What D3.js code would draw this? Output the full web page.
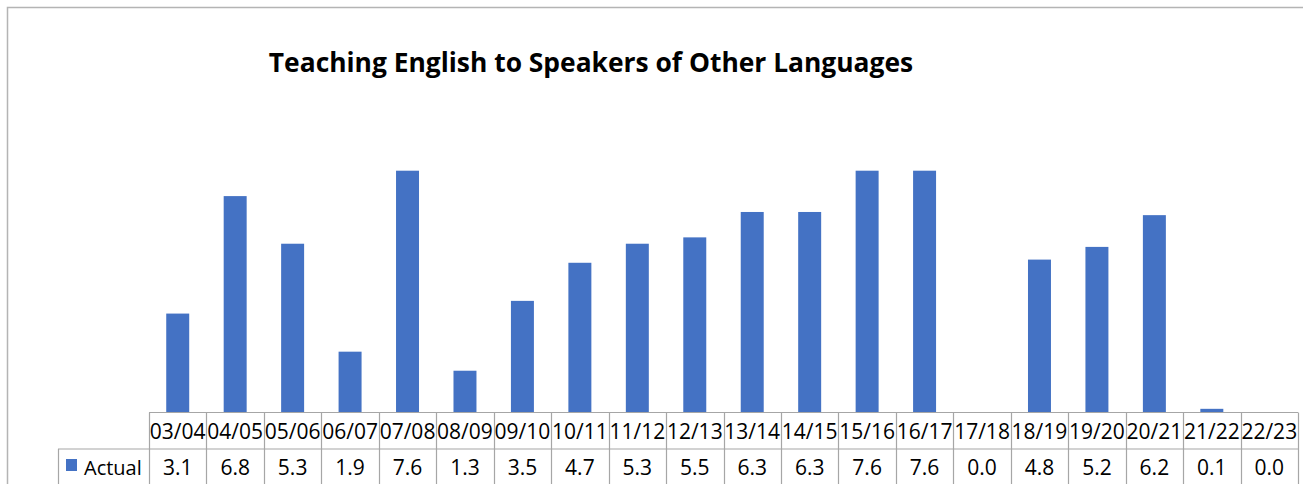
<!DOCTYPE html>
<html>
<head>
<meta charset="utf-8">
<script src="https://cdn.jsdelivr.net/npm/d3@7"></script>
<style>
  html, body { margin: 0; padding: 0; background: #fff; }
  svg { display: block; }
  text { font-family: "Open Sans", "Noto Sans", sans-serif; }
</style>
</head>
<body>
<script>
// Academic years and the "Actual" series
const years = ["03/04","04/05","05/06","06/07","07/08","08/09","09/10","10/11","11/12","12/13",
               "13/14","14/15","15/16","16/17","17/18","18/19","19/20","20/21","21/22","22/23"];
const actual = [3.1, 6.8, 5.3, 1.9, 7.6, 1.3, 3.5, 4.7, 5.3, 5.5,
                6.3, 6.3, 7.6, 7.6, 0.0, 4.8, 5.2, 6.2, 0.1, 0.0];
const seriesName = "Actual";
const chartTitle = "Teaching English to Speakers of Other Languages";
const yDomain = [0, 8];

const W = 1303, H = 484;
const plotLeft = 149, plotRight = 1298;
const baseY = 412, topY = 158;
const rowH = 37;
const blue = "#4472C4";
const gridCol = "#a6a6a6";

const svg = d3.select("body").append("svg").attr("width", W).attr("height", H);

// outer chart frame
svg.append("rect").attr("x", 7.5).attr("y", 7.5).attr("width", W + 10).attr("height", H + 10)
  .attr("fill", "none").attr("stroke", "#b4b4b4").attr("stroke-width", 1.5);

svg.append("text").attr("x", 591).attr("y", 72).attr("text-anchor", "middle")
  .attr("font-size", 26.4).attr("font-weight", 700).attr("fill", "#000")
  .text(chartTitle);

const x = d3.scaleBand().domain(years).range([plotLeft, plotRight]).paddingInner(0.6).paddingOuter(0.3);
const xc = d3.scaleBand().domain(years).range([plotLeft, plotRight]);
const y = d3.scaleLinear().domain(yDomain).range([baseY, topY]);

svg.append("g").selectAll("rect").data(actual).join("rect")
  .attr("x", (d, i) => x(years[i]))
  .attr("width", x.bandwidth())
  .attr("y", d => y(d))
  .attr("height", d => y(0) - y(d))
  .attr("fill", blue);

// data table under the plot
const tbl = svg.append("g").attr("fill", "none").attr("stroke", gridCol).attr("stroke-width", 1.2);
const r1 = baseY + 0.5, r2 = baseY + rowH, r3 = H + 5;
tbl.append("line").attr("x1", plotLeft).attr("x2", plotRight).attr("y1", r1).attr("y2", r1);
tbl.append("line").attr("x1", 58).attr("x2", plotRight).attr("y1", r2).attr("y2", r2);
tbl.append("line").attr("x1", 58.5).attr("x2", 58.5).attr("y1", r2).attr("y2", r3);
tbl.selectAll("line.v").data(years.concat(["end"])).join("line").attr("class", "v")
  .attr("x1", (d, i) => Math.round(i < years.length ? xc(d) : plotRight) + 0.5)
  .attr("x2", (d, i) => Math.round(i < years.length ? xc(d) : plotRight) + 0.5)
  .attr("y1", r1).attr("y2", r3);

const txt = svg.append("g").attr("font-size", 21).attr("fill", "#000").attr("text-anchor", "middle");
txt.selectAll("text.h").data(years).join("text").attr("class", "h")
  .attr("x", d => xc(d) + xc.bandwidth() / 2).attr("y", r1 + 26.5).text(d => d);
txt.selectAll("text.v").data(actual).join("text").attr("class", "v")
  .attr("x", (d, i) => xc(years[i]) + xc.bandwidth() / 2).attr("y", r2 + 25.5).text(d => d.toFixed(1));

svg.append("rect").attr("x", 66).attr("y", 459).attr("width", 11).attr("height", 12).attr("fill", blue);
svg.append("text").attr("x", 84).attr("y", r2 + 25.5).attr("font-size", 20).attr("fill", "#000").text(seriesName);
</script>
</body>
</html>
